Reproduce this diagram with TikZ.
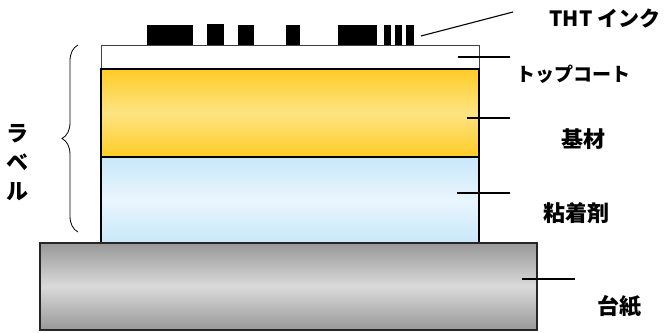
\documentclass[tikz,border=0pt]{standalone}
\usepackage{fontspec}
\newfontfamily\jpfont{Noto Sans CJK JP}
\usetikzlibrary{decorations.pathreplacing}
\definecolor{gold}{RGB}{255,204,38}
\definecolor{goldlight}{RGB}{253,228,130}
\definecolor{skyblue}{RGB}{200,232,250}
\definecolor{skylight}{RGB}{233,245,253}
\definecolor{slate}{RGB}{152,152,152}
\definecolor{slatelight}{RGB}{218,218,218}

\begin{document}
\begin{tikzpicture}[x=1pt, y=-1pt,
        lbl/.style = {font=\jpfont\bfseries\fontsize{#1}{#1}\selectfont, inner sep=0pt},
        lbl/.default = 22,
        leader/.style = {line width=1.1pt}]
    \useasboundingbox (0,0) rectangle (666,332);

    % layers of the label, then the backing sheet
    \draw[line width=1pt, draw=black!75, fill=white]                                             (101,45)  rectangle (479,69);
    \draw[line width=1.6pt, top color=gold, bottom color=gold, middle color=goldlight]          (101,69)  rectangle (479,157);
    \draw[line width=1.6pt, top color=skyblue, bottom color=skyblue, middle color=skylight]     (101,157) rectangle (479,243);
    \draw[line width=1.6pt, draw=black!85, top color=slate, bottom color=slate, middle color=slatelight] (40,243) rectangle (537,330);

    % THT ink
    \foreach \a/\b in {147/193, 238/254, 286/300, 338/377, 384/391, 395/402, 406/414}
        \fill (\a,25) rectangle (\b,45);
    \fill (207,24) rectangle (224,45);

    % leader ends
    \coordinate (ink a)  at (421,36);  \coordinate (ink b)  at (513,12);
    \coordinate (top a)  at (458,57);  \coordinate (top b)  at (510,57);
    \coordinate (base a) at (467,118); \coordinate (base b) at (510,118);
    \coordinate (adh a)  at (457,193); \coordinate (adh b)  at (510,193);
    \coordinate (back a) at (522,279); \coordinate (back b) at (575,279);

    \node[lbl=21] (ink)     at (605,18)  {THT インク};
    \node[lbl=19] (topcoat) at (573,74)  {トップコート};
    \node[lbl]    (base)    at (583,139) {基材};
    \node[lbl]    (adh)     at (576,213) {粘着剤};
    \node[lbl]    (back)    at (619,306) {台紙};
    \node[lbl, align=center, font=\jpfont\bfseries\fontsize{22}{29}\selectfont] (label) at (17,163) {ラ\\ベ\\ル};

    \draw[leader] (ink a) -- (ink b);
    \draw[leader] (top a) -- (top b);
    \draw[leader] (base a) -- (base b);
    \draw[leader] (adh a) -- (adh b);
    \draw[leader] (back a) -- (back b);

    \draw[line width=0.8pt, decorate, decoration={brace, amplitude=16pt}] (78,232) -- (78,45);
\end{tikzpicture}
\end{document}
